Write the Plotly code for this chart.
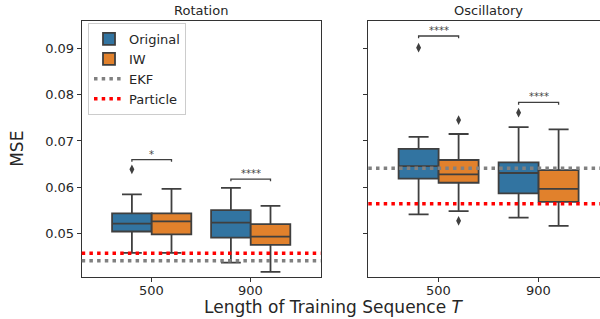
import plotly.graph_objects as go

# ---------------- data ----------------
categories = ["500", "900"]
panels = ["Rotation", "Oscillatory"]
series = ["Original", "IW"]

# Rotation panel
rot_orig_q1 = [0.0505, 0.0492]
rot_orig_med = [0.0522, 0.0524]
rot_orig_q3 = [0.0544, 0.0551]
rot_orig_lo = [0.0459, 0.0438]
rot_orig_hi = [0.0585, 0.0599]
rot_orig_out = [[0.0639], []]

rot_iw_q1 = [0.0499, 0.0476]
rot_iw_med = [0.0527, 0.0494]
rot_iw_q3 = [0.0544, 0.0521]
rot_iw_lo = [0.0459, 0.0418]
rot_iw_hi = [0.0597, 0.0560]
rot_iw_out = [[], []]

# Oscillatory panel
osc_orig_q1 = [0.0619, 0.0587]
osc_orig_med = [0.0646, 0.0631]
osc_orig_q3 = [0.0683, 0.0654]
osc_orig_lo = [0.0542, 0.0535]
osc_orig_hi = [0.0709, 0.0730]
osc_orig_out = [[0.0901], [0.0761]]

osc_iw_q1 = [0.0610, 0.0569]
osc_iw_med = [0.0628, 0.0597]
osc_iw_q3 = [0.0659, 0.0637]
osc_iw_lo = [0.0549, 0.0517]
osc_iw_hi = [0.0715, 0.0725]
osc_iw_out = [[0.0745, 0.0528], []]

# reference baselines
ekf_mse = [0.0442, 0.0641]
particle_mse = [0.0458, 0.0565]

# significance brackets
sig_y = [[0.0660, 0.0618], [0.0926, 0.0783]]
sig_label = [["*", "****"], ["****", "****"]]

yticks = [0.05, 0.06, 0.07, 0.08, 0.09]

# ---------------- style ----------------
FONT = "DejaVu Sans"
colors = {"Original": "#3274a1", "IW": "#e1812c"}
edge = "#3f3f3f"
axcol = "#333333"
box_w = 0.4
offsets = {"Original": -0.2, "IW": 0.2}

data = {
    "Rotation": {
        "Original": (rot_orig_q1, rot_orig_med, rot_orig_q3, rot_orig_lo, rot_orig_hi, rot_orig_out),
        "IW": (rot_iw_q1, rot_iw_med, rot_iw_q3, rot_iw_lo, rot_iw_hi, rot_iw_out),
    },
    "Oscillatory": {
        "Original": (osc_orig_q1, osc_orig_med, osc_orig_q3, osc_orig_lo, osc_orig_hi, osc_orig_out),
        "IW": (osc_iw_q1, osc_iw_med, osc_iw_q3, osc_iw_lo, osc_iw_hi, osc_iw_out),
    },
}

W, H = 600, 319
fig = go.Figure()

axes = [("x", "y"), ("x2", "y2")]
for pi, panel in enumerate(panels):
    xa, ya = axes[pi]
    for s in series:
        q1, med, q3, lo, hi, out = data[panel][s]
        xs = [i + offsets[s] for i in range(len(categories))]
        fig.add_trace(go.Box(
            x=xs, q1=q1, median=med, q3=q3, lowerfence=lo, upperfence=hi,
            width=box_w, whiskerwidth=0.5, boxpoints=False,
            fillcolor=colors[s], line=dict(color=edge, width=1.8),
            name=s, legendgroup=s, showlegend=(pi == 0),
            xaxis=xa, yaxis=ya,
        ))
        ox, oy = [], []
        for i, vals in enumerate(out):
            for v in vals:
                ox.append(i + offsets[s])
                oy.append(v)
        if ox:
            fig.add_trace(go.Scatter(
                x=ox, y=oy, mode="markers",
                marker=dict(symbol="diamond-tall", size=7, color=edge),
                showlegend=False, xaxis=xa, yaxis=ya, hoverinfo="skip",
            ))
    # significance brackets
    for i in range(len(categories)):
        yb = sig_y[pi][i]
        x0 = i + offsets["Original"]
        x1 = i + offsets["IW"]
        tick = 0.0005
        fig.add_trace(go.Scatter(
            x=[x0, x0, x1, x1], y=[yb - tick, yb, yb, yb - tick],
            mode="lines", line=dict(color=edge, width=1.3),
            showlegend=False, xaxis=xa, yaxis=ya, hoverinfo="skip",
        ))
        fig.add_annotation(
            x=i, y=yb, xref=xa, yref=ya, text=sig_label[pi][i],
            showarrow=False, xanchor="center", yanchor="bottom", yshift=-2,
            font=dict(family=FONT, size=10, color="#444"),
        )
    # category tick labels (placed as text under each tick)
    for i, c in enumerate(categories):
        fig.add_annotation(
            x=i, y=1 - 290 / H, xref=xa, yref="paper", text=c,
            showarrow=False, xanchor="center", yanchor="middle",
            font=dict(family=FONT, size=13, color="#262626"),
        )
    # baselines
    dom = "x domain" if pi == 0 else "x2 domain"
    fig.add_shape(type="line", xref=dom, yref=ya, x0=0, x1=1,
                  y0=ekf_mse[pi], y1=ekf_mse[pi], layer="above",
                  line=dict(color="#808080", width=3.5, dash="3.5px,4.2px"),
                  name="EKF", showlegend=(pi == 0), legendgroup="EKF")
    fig.add_shape(type="line", xref=dom, yref=ya, x0=0, x1=1,
                  y0=particle_mse[pi], y1=particle_mse[pi], layer="above",
                  line=dict(color="#ff0000", width=3.5, dash="3.5px,4.2px"),
                  name="Particle", showlegend=(pi == 0), legendgroup="Particle")

yr = [0.0407, 0.0959]
common_x = dict(
    tickmode="array", tickvals=list(range(len(categories))), showticklabels=False,
    showline=True, linecolor=axcol, linewidth=1, mirror=True,
    ticks="outside", ticklen=4, tickcolor=axcol, showgrid=False, zeroline=False,
)
common_y = dict(
    range=yr, tickvals=yticks, tickformat=".2f",
    showline=True, linecolor=axcol, linewidth=1,
    ticks="outside", ticklen=4, tickcolor=axcol, showgrid=False, zeroline=False,
    tickfont=dict(family=FONT, size=13, color="#262626"),
)

fig.update_layout(
    width=W, height=H,
    margin=dict(l=0, r=0, t=0, b=0, autoexpand=False),
    paper_bgcolor="white", plot_bgcolor="white",
    boxmode="overlay",
    font=dict(family=FONT, size=13, color="#262626"),
    xaxis=dict(domain=[81.7 / W, 320.7 / W], range=[-0.707, 1.707], **common_x),
    xaxis2=dict(domain=[368.3 / W, 1.0], range=[-0.703, 1.614], **common_x),
    yaxis=dict(domain=[1 - 277 / H, 1 - 20.7 / H], mirror=True, **common_y),
    yaxis2=dict(domain=[1 - 277 / H, 1 - 20.7 / H], anchor="x2", showticklabels=False, **common_y),
    legend=dict(
        x=88 / W, y=1 - 23 / H, xanchor="left", yanchor="top",
        bgcolor="white", bordercolor="#cccccc", borderwidth=1,
        font=dict(family=FONT, size=13, color="#262626"),
        tracegroupgap=0, itemwidth=30,
    ),
    showlegend=True,
)
fig.update_layout(xaxis2_anchor="y2")

# titles and axis labels
fig.add_annotation(x=201.2 / W, y=1 - 10.7 / H, xref="paper", yref="paper",
                   xanchor="center", yanchor="middle",
                   text="Rotation", showarrow=False,
                   font=dict(family=FONT, size=13, color="#262626"))
fig.add_annotation(x=488.3 / W, y=1 - 10.7 / H, xref="paper", yref="paper",
                   xanchor="center", yanchor="middle",
                   text="Oscillatory", showarrow=False,
                   font=dict(family=FONT, size=13, color="#262626"))
fig.add_annotation(x=17 / W, y=1 - 148.8 / H, xref="paper", yref="paper",
                   xanchor="center", yanchor="middle",
                   text="MSE", textangle=-90, showarrow=False,
                   font=dict(family=FONT, size=17, color="#262626"))
fig.add_annotation(x=334 / W, y=1 - 306.7 / H, xref="paper", yref="paper",
                   xanchor="center", yanchor="middle",
                   text="Length of Training Sequence <i>T</i>", showarrow=False,
                   font=dict(family=FONT, size=17, color="#262626"))

fig.write_html("out.html", config={"displayModeBar": False},
               post_script="document.body.style.margin='0';document.body.style.padding='0';")
